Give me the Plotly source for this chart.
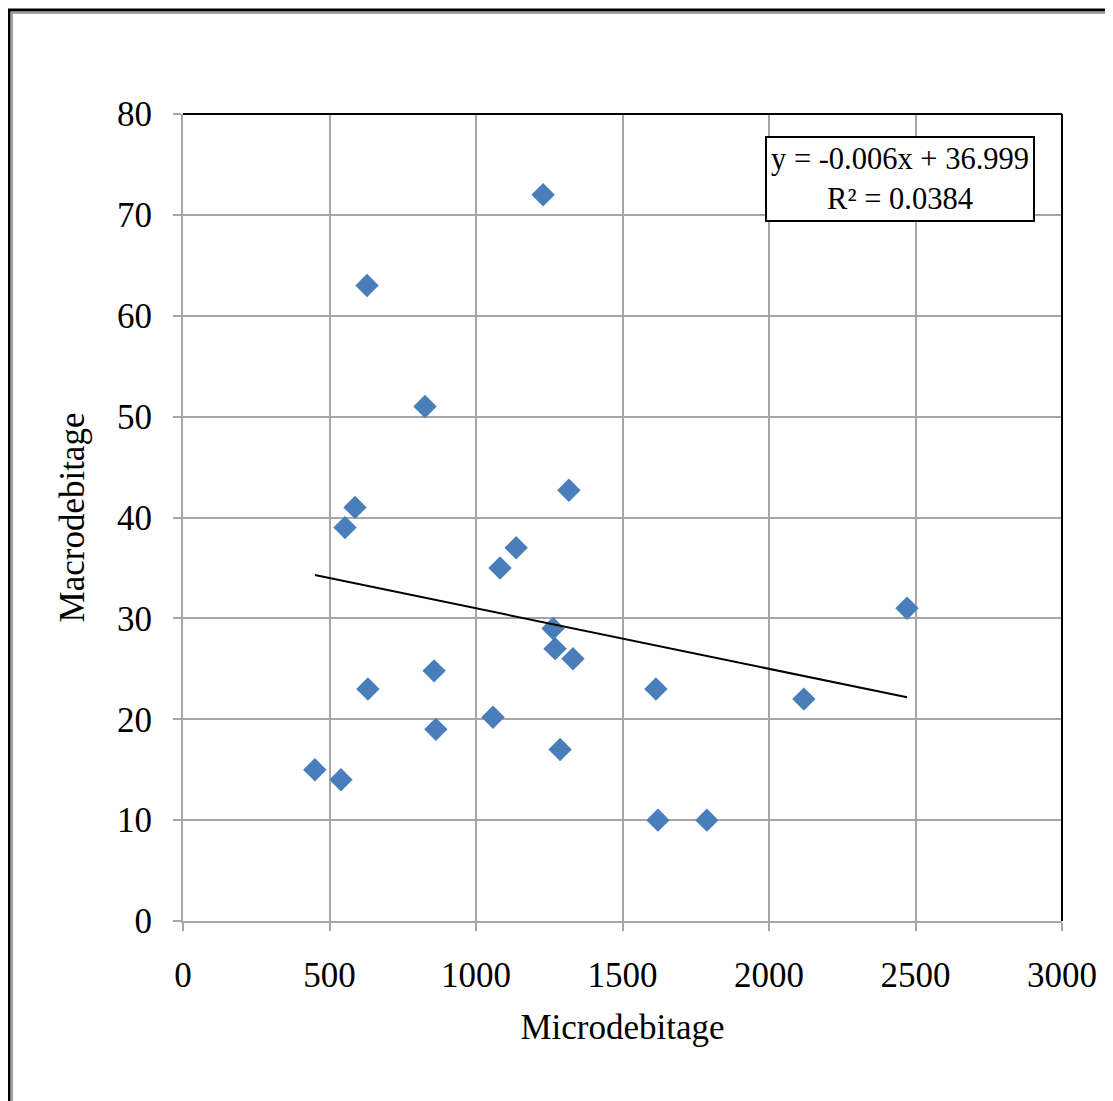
import plotly.graph_objects as go

micro = [450, 539, 628, 631, 553, 587, 826, 857, 863, 1058, 1082, 1137,
         1229, 1263, 1270, 1287, 1317, 1331, 1614, 1621, 1788, 2119, 2471]
macro = [15, 14, 63, 23, 39, 41, 51, 24.8, 19, 20.2, 35, 37,
         72, 29, 27, 17, 42.7, 26, 23, 10, 10, 22, 31]

slope = -0.006
intercept = 36.999
r2 = 0.0384

x_ticks = [0, 500, 1000, 1500, 2000, 2500, 3000]
y_ticks = [0, 10, 20, 30, 40, 50, 60, 70, 80]

FONT = "Liberation Serif"
GRID = "#a6a6a6"

xmin, xmax = min(micro), max(micro)
trend_x = [xmin, xmax]
trend_y = [slope * v + intercept for v in trend_x]

fig = go.Figure()
fig.add_trace(go.Scatter(
    x=micro, y=macro, mode="markers",
    marker=dict(symbol="diamond", size=18, color="#4a7ebb",
                line=dict(width=0)),
    showlegend=False, hoverinfo="x+y"))
fig.add_trace(go.Scatter(
    x=trend_x, y=trend_y, mode="lines",
    line=dict(color="black", width=2), showlegend=False))

# page is offset by the 8px body margin; compensate
OFF = 8
W, H = 1113, 1101
L, R, T, B = 183 - OFF, 51 + OFF, 114 - OFF, 180 + OFF
pw, ph = W - L - R, H - T - B


def px_x(p):
    return (p - OFF - L) / pw


def px_y(p):
    return (H - B - (p - OFF)) / ph


fig.update_layout(
    width=W, height=H,
    margin=dict(l=L, r=R, t=T, b=B),
    paper_bgcolor="white", plot_bgcolor="white",
    font=dict(family=FONT, size=35, color="black"),
    xaxis=dict(range=[0, 3000], tickvals=x_ticks, ticktext=[str(v) for v in x_ticks],
               showgrid=True, gridcolor=GRID, gridwidth=2,
               showline=True, linecolor=GRID, linewidth=2,
               ticks="outside", ticklen=8, tickwidth=2, tickcolor=GRID,
               zeroline=False, ticklabelstandoff=14,
               title=dict(text="Microdebitage", standoff=20,
                          font=dict(family=FONT, size=35))),
    yaxis=dict(range=[0, 80], tickvals=y_ticks, ticktext=[str(v) for v in y_ticks],
               showgrid=True, gridcolor=GRID, gridwidth=2,
               showline=True, linecolor=GRID, linewidth=2,
               ticks="outside", ticklen=8, tickwidth=2, tickcolor=GRID,
               zeroline=False, ticklabelstandoff=14,
               title=dict(text="Macrodebitage", standoff=22,
                          font=dict(family=FONT, size=35))),
    shapes=[
        dict(type="line", xref="paper", yref="paper", x0=0, x1=1, y0=1, y1=1,
             line=dict(color="black", width=2), layer="above"),
        dict(type="line", xref="paper", yref="paper", x0=1, x1=1, y0=0, y1=1,
             line=dict(color="black", width=2), layer="above"),
        dict(type="rect", xref="paper", yref="paper",
             x0=px_x(9), x1=px_x(1125), y0=px_y(10), y1=px_y(1115),
             line=dict(color="black", width=3), layer="above"),
        dict(type="rect", xref="paper", yref="paper",
             x0=px_x(12), x1=px_x(1122), y0=px_y(13), y1=px_y(1112),
             line=dict(color="#a0a0a0", width=2), layer="above"),
    ],
    annotations=[
        dict(xref="paper", yref="paper", x=px_x(900), y=px_y(179),
             xanchor="center", yanchor="middle",
             text=f"y = {slope}x + {intercept}<br>R² = {r2}",
             showarrow=False, align="center",
             font=dict(family=FONT, size=30.5, color="black"),
             bordercolor="black", borderwidth=2, borderpad=4,
             bgcolor="white"),
    ],
)

fig.write_html("out.html")
